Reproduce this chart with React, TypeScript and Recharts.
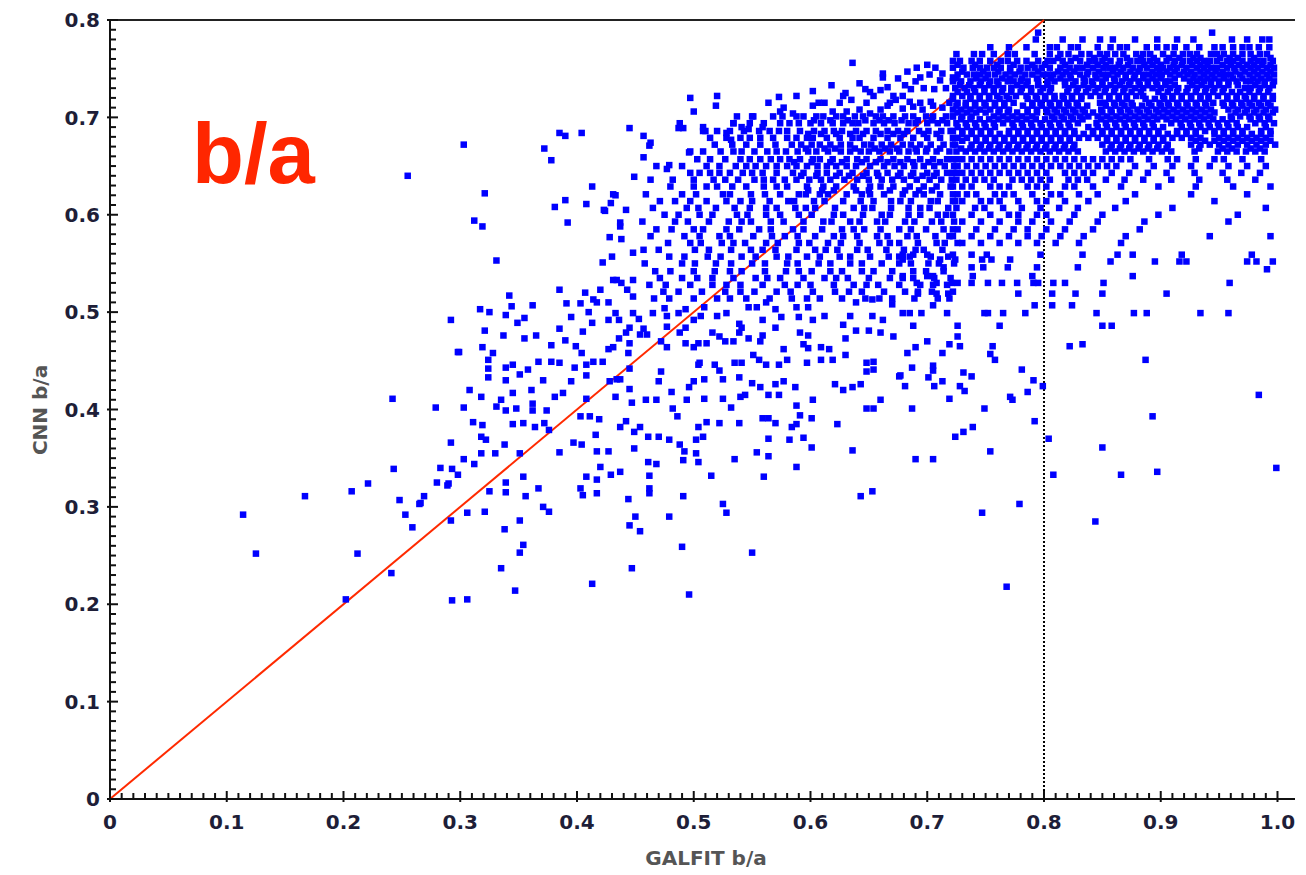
import React from "react";
import { ScatterChart, Scatter, XAxis, YAxis, ReferenceLine } from "recharts";

// GALFIT b/a vs CNN b/a
// single points: [galfit, cnn]
const leftOutliers: [number, number][] = [
  [0.114, 0.292], [0.125, 0.252], [0.167, 0.311], [0.202, 0.205], [0.207, 0.316], [0.212, 0.252],
  [0.221, 0.324], [0.241, 0.232], [0.242, 0.411], [0.243, 0.339], [0.248, 0.307], [0.253, 0.292],
  [0.255, 0.640], [0.259, 0.279], [0.265, 0.303], [0.269, 0.311], [0.279, 0.402], [0.280, 0.325],
  [0.283, 0.340], [0.289, 0.322], [0.292, 0.366], [0.292, 0.286], [0.293, 0.339], [0.293, 0.204],
  [0.298, 0.333], [0.298, 0.459], [0.303, 0.672], [0.306, 0.205],
];

const upperLeft: [number, number][] = [
  [0.312, 0.594], [0.319, 0.588], [0.321, 0.622], [0.331, 0.553], [0.342, 0.517], [0.372, 0.668],
  [0.378, 0.656], [0.381, 0.608], [0.390, 0.615], [0.390, 0.681], [0.392, 0.592], [0.404, 0.684],
  [0.408, 0.611], [0.413, 0.629], [0.424, 0.604], [0.429, 0.612], [0.433, 0.620], [0.445, 0.689],
  [0.449, 0.639], [0.423, 0.605], [0.431, 0.621], [0.437, 0.592], [0.428, 0.577], [0.437, 0.588],
  [0.438, 0.575], [0.448, 0.561], [0.422, 0.551], [0.430, 0.557], [0.434, 0.533], [0.438, 0.530],
  [0.443, 0.523], [0.448, 0.533], [0.385, 0.523], [0.391, 0.509], [0.407, 0.520], [0.414, 0.513],
  [0.420, 0.523], [0.431, 0.533], [0.448, 0.516], [0.442, 0.605], [0.385, 0.684],
];

const upperStragglers: [number, number][] = [
  [0.457, 0.681], [0.462, 0.671], [0.457, 0.659], [0.463, 0.674], [0.477, 0.647], [0.479, 0.651],
  [0.487, 0.689], [0.491, 0.689], [0.496, 0.664], [0.497, 0.720], [0.500, 0.706], [0.508, 0.690],
  [0.510, 0.686], [0.519, 0.712], [0.520, 0.722], [0.528, 0.684], [0.532, 0.677], [0.534, 0.694],
  [0.541, 0.690], [0.550, 0.701], [0.547, 0.688], [0.559, 0.690], [0.564, 0.715], [0.573, 0.721],
  [0.577, 0.710], [0.588, 0.722], [0.602, 0.727], [0.607, 0.715], [0.618, 0.733], [0.630, 0.725],
  [0.635, 0.718], [0.642, 0.735], [0.651, 0.726], [0.660, 0.728], [0.666, 0.731], [0.662, 0.741],
  [0.666, 0.712], [0.673, 0.718], [0.636, 0.756], [0.662, 0.745], [0.683, 0.747], [0.691, 0.751],
  [0.700, 0.754], [0.707, 0.751], [0.713, 0.745], [0.722, 0.741], [0.675, 0.740], [0.628, 0.722],
  [0.654, 0.722], [0.671, 0.722], [0.679, 0.722], [0.694, 0.741], [0.702, 0.744], [0.711, 0.738],
  [0.602, 0.712], [0.619, 0.706], [0.631, 0.706], [0.642, 0.708], [0.651, 0.704], [0.660, 0.708],
  [0.679, 0.709], [0.688, 0.711], [0.696, 0.708], [0.705, 0.712], [0.713, 0.710], [0.574, 0.706],
  [0.585, 0.704], [0.612, 0.715], [0.625, 0.715], [0.648, 0.715], [0.668, 0.715], [0.685, 0.716],
  [0.694, 0.715], [0.703, 0.716], [0.719, 0.715], [0.647, 0.729], [0.686, 0.729], [0.697, 0.730],
  [0.706, 0.729], [0.716, 0.730], [0.690, 0.737], [0.681, 0.733],
];

const midScatter: [number, number][] = [
  [0.292, 0.492], [0.317, 0.503], [0.325, 0.500], [0.339, 0.497], [0.344, 0.506], [0.349, 0.489],
  [0.355, 0.494], [0.362, 0.507], [0.321, 0.481], [0.337, 0.476], [0.355, 0.473], [0.365, 0.476],
  [0.299, 0.459], [0.319, 0.464], [0.328, 0.458], [0.324, 0.451], [0.324, 0.442], [0.324, 0.433],
  [0.339, 0.443], [0.345, 0.446], [0.339, 0.430], [0.351, 0.436], [0.358, 0.441], [0.367, 0.449],
  [0.371, 0.430], [0.378, 0.449], [0.385, 0.448], [0.378, 0.466], [0.390, 0.471], [0.385, 0.483],
  [0.395, 0.495], [0.403, 0.509], [0.405, 0.480], [0.399, 0.465], [0.404, 0.458], [0.398, 0.443],
  [0.395, 0.429], [0.408, 0.446], [0.414, 0.449], [0.422, 0.449], [0.308, 0.420], [0.318, 0.413],
  [0.335, 0.410], [0.345, 0.417], [0.361, 0.420], [0.381, 0.413], [0.388, 0.417], [0.331, 0.403],
  [0.339, 0.399], [0.348, 0.401], [0.362, 0.406], [0.362, 0.399], [0.374, 0.399], [0.303, 0.402],
  [0.311, 0.387], [0.319, 0.384], [0.318, 0.372], [0.322, 0.369], [0.345, 0.385], [0.354, 0.386],
  [0.364, 0.382], [0.372, 0.386], [0.376, 0.379], [0.318, 0.355], [0.330, 0.355], [0.338, 0.364],
  [0.351, 0.355], [0.303, 0.349], [0.312, 0.344], [0.290, 0.324], [0.266, 0.304], [0.306, 0.294],
  [0.321, 0.295], [0.325, 0.316], [0.339, 0.325], [0.339, 0.315], [0.354, 0.331], [0.356, 0.311],
  [0.367, 0.319], [0.371, 0.300], [0.376, 0.295], [0.338, 0.277], [0.351, 0.286], [0.354, 0.261],
  [0.351, 0.253], [0.335, 0.237], [0.347, 0.214], [0.413, 0.221], [0.385, 0.356], [0.397, 0.366],
  [0.404, 0.364], [0.416, 0.374], [0.417, 0.357], [0.427, 0.357], [0.419, 0.390], [0.433, 0.413],
  [0.445, 0.421], [0.447, 0.407], [0.459, 0.410], [0.454, 0.382], [0.449, 0.377], [0.437, 0.382],
  [0.442, 0.388], [0.461, 0.372], [0.470, 0.372], [0.479, 0.369], [0.449, 0.360], [0.461, 0.346],
  [0.468, 0.344], [0.420, 0.341], [0.408, 0.331], [0.417, 0.328], [0.429, 0.333], [0.437, 0.336],
  [0.403, 0.319], [0.405, 0.312], [0.417, 0.314], [0.444, 0.308], [0.462, 0.332], [0.462, 0.319],
  [0.462, 0.314], [0.450, 0.290], [0.445, 0.281], [0.454, 0.275], [0.479, 0.290], [0.447, 0.237],
  [0.490, 0.259], [0.496, 0.210], [0.491, 0.311], [0.525, 0.303], [0.528, 0.294], [0.550, 0.253],
  [0.515, 0.332], [0.560, 0.331], [0.588, 0.341], [0.636, 0.358], [0.643, 0.311], [0.653, 0.316],
  [0.535, 0.349], [0.554, 0.356], [0.564, 0.352], [0.488, 0.364], [0.492, 0.357], [0.491, 0.348],
  [0.502, 0.355], [0.504, 0.346], [0.502, 0.369], [0.508, 0.372], [0.504, 0.382], [0.511, 0.387],
  [0.522, 0.386], [0.539, 0.386], [0.564, 0.370], [0.582, 0.369], [0.594, 0.371], [0.601, 0.361],
  [0.584, 0.382], [0.588, 0.385], [0.559, 0.391], [0.564, 0.391], [0.570, 0.386], [0.591, 0.394],
  [0.601, 0.391], [0.588, 0.404], [0.623, 0.385], [0.648, 0.401], [0.654, 0.401], [0.660, 0.410],
  [0.602, 0.410], [0.532, 0.402], [0.525, 0.411], [0.509, 0.411], [0.540, 0.413], [0.544, 0.415],
  [0.564, 0.415], [0.573, 0.415], [0.550, 0.427], [0.557, 0.423], [0.570, 0.426], [0.577, 0.429],
  [0.587, 0.423], [0.621, 0.426], [0.628, 0.420], [0.636, 0.423], [0.643, 0.426], [0.648, 0.439],
  [0.654, 0.441], [0.654, 0.449], [0.676, 0.434], [0.482, 0.401], [0.486, 0.393], [0.494, 0.410],
  [0.496, 0.423], [0.500, 0.429], [0.481, 0.418], [0.470, 0.429], [0.472, 0.439], [0.468, 0.410],
  [0.445, 0.442], [0.434, 0.431], [0.437, 0.431], [0.428, 0.429], [0.408, 0.435], [0.408, 0.411],
  [0.403, 0.393], [0.411, 0.393], [0.504, 0.446], [0.505, 0.448], [0.509, 0.431], [0.518, 0.446],
  [0.522, 0.440], [0.525, 0.431], [0.539, 0.433], [0.535, 0.448], [0.541, 0.448], [0.551, 0.456],
  [0.556, 0.451], [0.562, 0.446], [0.573, 0.446], [0.580, 0.451], [0.597, 0.448], [0.609, 0.451],
  [0.619, 0.451], [0.630, 0.456], [0.648, 0.448], [0.577, 0.462], [0.594, 0.467], [0.598, 0.463],
  [0.609, 0.464], [0.616, 0.462], [0.630, 0.473], [0.671, 0.475], [0.660, 0.479], [0.639, 0.481],
  [0.650, 0.481], [0.591, 0.479], [0.598, 0.476], [0.570, 0.484], [0.559, 0.476], [0.557, 0.470],
  [0.547, 0.473], [0.534, 0.470], [0.539, 0.479], [0.541, 0.484], [0.522, 0.475], [0.527, 0.470],
  [0.516, 0.479], [0.504, 0.468], [0.511, 0.468], [0.493, 0.468], [0.500, 0.464], [0.488, 0.479],
  [0.493, 0.484], [0.472, 0.470], [0.477, 0.464], [0.477, 0.485], [0.460, 0.477], [0.454, 0.477],
  [0.457, 0.483], [0.445, 0.484], [0.442, 0.479], [0.445, 0.468], [0.436, 0.473], [0.427, 0.462],
  [0.431, 0.464], [0.444, 0.458], [0.436, 0.492], [0.427, 0.492], [0.413, 0.489], [0.410, 0.500],
  [0.417, 0.510], [0.427, 0.510], [0.433, 0.499], [0.448, 0.499], [0.453, 0.493], [0.465, 0.499],
  [0.475, 0.504], [0.477, 0.496], [0.487, 0.499], [0.493, 0.503], [0.500, 0.492], [0.506, 0.496],
  [0.509, 0.505], [0.520, 0.496], [0.528, 0.499], [0.539, 0.488], [0.547, 0.505], [0.554, 0.505],
  [0.562, 0.510], [0.559, 0.492], [0.570, 0.503], [0.575, 0.495], [0.588, 0.505], [0.590, 0.495],
  [0.598, 0.505], [0.602, 0.492], [0.612, 0.496], [0.628, 0.487], [0.634, 0.496], [0.639, 0.510],
  [0.653, 0.496], [0.662, 0.492], [0.653, 0.513], [0.670, 0.508],
];

const rightScatter: [number, number][] = [
  [0.679, 0.559], [0.688, 0.559], [0.700, 0.559], [0.722, 0.559], [0.738, 0.559], [0.751, 0.559],
  [0.797, 0.559], [0.679, 0.554], [0.711, 0.554], [0.724, 0.554], [0.747, 0.554], [0.755, 0.554],
  [0.771, 0.554], [0.833, 0.559], [0.863, 0.559], [0.876, 0.559], [0.918, 0.559], [0.978, 0.559],
  [0.857, 0.552], [0.895, 0.552], [0.916, 0.552], [0.922, 0.552], [0.974, 0.552], [0.982, 0.552],
  [0.996, 0.552], [0.714, 0.546], [0.738, 0.546], [0.748, 0.546], [0.769, 0.546], [0.794, 0.546],
  [0.829, 0.546], [0.991, 0.544], [0.679, 0.537], [0.700, 0.537], [0.705, 0.537], [0.739, 0.537],
  [0.790, 0.537], [0.876, 0.537], [0.691, 0.530], [0.708, 0.530], [0.721, 0.530], [0.726, 0.530],
  [0.738, 0.530], [0.752, 0.530], [0.764, 0.530], [0.777, 0.530], [0.791, 0.530], [0.795, 0.530],
  [0.808, 0.530], [0.818, 0.530], [0.851, 0.530], [0.959, 0.530], [0.692, 0.519], [0.708, 0.519],
  [0.718, 0.519], [0.778, 0.519], [0.807, 0.519], [0.827, 0.519], [0.850, 0.519], [0.905, 0.519],
  [0.705, 0.507], [0.792, 0.507], [0.807, 0.507], [0.824, 0.507], [0.679, 0.499], [0.685, 0.499],
  [0.695, 0.499], [0.717, 0.499], [0.749, 0.499], [0.752, 0.499], [0.765, 0.499], [0.784, 0.499],
  [0.845, 0.499], [0.877, 0.499], [0.888, 0.499], [0.934, 0.499], [0.958, 0.499], [0.688, 0.486],
  [0.762, 0.486], [0.726, 0.486], [0.850, 0.486], [0.858, 0.486], [0.726, 0.475], [0.728, 0.465],
  [0.719, 0.467], [0.700, 0.470], [0.690, 0.464], [0.683, 0.458], [0.713, 0.458], [0.756, 0.465],
  [0.754, 0.457], [0.758, 0.451], [0.822, 0.465], [0.833, 0.467], [0.887, 0.451], [0.687, 0.443],
  [0.705, 0.445], [0.705, 0.440], [0.731, 0.438], [0.738, 0.434], [0.781, 0.441], [0.677, 0.435],
  [0.701, 0.433], [0.713, 0.429], [0.681, 0.424], [0.706, 0.424], [0.728, 0.424], [0.732, 0.419],
  [0.791, 0.430], [0.786, 0.418], [0.771, 0.413], [0.773, 0.410], [0.799, 0.424], [0.719, 0.411],
  [0.687, 0.401], [0.749, 0.401], [0.792, 0.388], [0.739, 0.382], [0.731, 0.377], [0.724, 0.372],
  [0.754, 0.357], [0.690, 0.349], [0.705, 0.349], [0.779, 0.303], [0.747, 0.294], [0.768, 0.218],
  [0.984, 0.415], [0.893, 0.393], [0.804, 0.370], [0.850, 0.361], [0.808, 0.333], [0.866, 0.333],
  [0.897, 0.336], [0.999, 0.340], [0.844, 0.285],
];

// denser parts read row by row: [cnn, [galfit...]]
const bandRows: [number, number[]][] = [
  [0.701, [0.537, 0.551, 0.568, 0.576, 0.588, 0.594, 0.605, 0.611, 0.622, 0.628, 0.638, 0.645, 0.656, 0.662, 0.671, 0.681, 0.688, 0.699, 0.705, 0.716, 0.722]],
  [0.697, [0.603, 0.617, 0.632, 0.647, 0.659, 0.667, 0.678, 0.692, 0.704, 0.713]],
  [0.694, [0.488, 0.534, 0.548, 0.560, 0.574, 0.582, 0.590, 0.600, 0.609, 0.619, 0.628, 0.636, 0.641, 0.654, 0.663, 0.672, 0.684, 0.690, 0.700, 0.709, 0.717]],
  [0.686, [0.508, 0.520, 0.531, 0.543, 0.556, 0.565, 0.573, 0.580, 0.591, 0.603, 0.612, 0.620, 0.627, 0.639, 0.648, 0.656, 0.666, 0.675, 0.683, 0.693, 0.701, 0.712, 0.720]],
  [0.683, [0.598, 0.609, 0.622, 0.634, 0.645, 0.660, 0.671, 0.680, 0.697, 0.708]],
  [0.679, [0.514, 0.528, 0.540, 0.548, 0.557, 0.568, 0.580, 0.588, 0.597, 0.602, 0.614, 0.625, 0.636, 0.642, 0.654, 0.666, 0.677, 0.688, 0.700, 0.711, 0.722]],
  [0.672, [0.518, 0.533, 0.545, 0.557, 0.570, 0.584, 0.592, 0.601, 0.608, 0.617, 0.626, 0.634, 0.646, 0.652, 0.661, 0.669, 0.679, 0.686, 0.694, 0.703, 0.714, 0.724]],
  [0.668, [0.596, 0.612, 0.621, 0.638, 0.655, 0.664, 0.674, 0.690, 0.700, 0.711]],
  [0.665, [0.497, 0.508, 0.523, 0.534, 0.541, 0.552, 0.563, 0.571, 0.579, 0.589, 0.598, 0.605, 0.615, 0.626, 0.634, 0.643, 0.650, 0.659, 0.668, 0.676, 0.684, 0.691, 0.699, 0.708, 0.719]],
  [0.657, [0.503, 0.514, 0.527, 0.540, 0.548, 0.557, 0.566, 0.574, 0.582, 0.591, 0.602, 0.608, 0.619, 0.631, 0.640, 0.648, 0.660, 0.671, 0.683, 0.694, 0.705, 0.717, 0.725]],
  [0.654, [0.586, 0.601, 0.617, 0.627, 0.644, 0.656, 0.666, 0.677, 0.688, 0.701, 0.711]],
  [0.650, [0.468, 0.490, 0.511, 0.522, 0.536, 0.545, 0.553, 0.562, 0.571, 0.580, 0.588, 0.597, 0.606, 0.614, 0.622, 0.631, 0.639, 0.651, 0.663, 0.672, 0.680, 0.689, 0.697, 0.706, 0.715, 0.723]],
  [0.643, [0.497, 0.505, 0.514, 0.522, 0.531, 0.542, 0.550, 0.559, 0.571, 0.585, 0.594, 0.606, 0.614, 0.625, 0.636, 0.648, 0.657, 0.666, 0.677, 0.688, 0.700, 0.708, 0.717, 0.725]],
  [0.640, [0.592, 0.605, 0.622, 0.633, 0.645, 0.658, 0.675, 0.686, 0.696, 0.706]],
  [0.636, [0.463, 0.482, 0.500, 0.517, 0.527, 0.538, 0.552, 0.560, 0.568, 0.578, 0.588, 0.599, 0.609, 0.617, 0.629, 0.640, 0.650, 0.661, 0.670, 0.680, 0.691, 0.702, 0.712, 0.721]],
  [0.629, [0.480, 0.500, 0.511, 0.520, 0.533, 0.545, 0.560, 0.571, 0.580, 0.597, 0.611, 0.622, 0.637, 0.651, 0.660, 0.671, 0.685, 0.697, 0.708, 0.720]],
  [0.625, [0.598, 0.610, 0.620, 0.639, 0.650, 0.668, 0.681, 0.693, 0.704]],
  [0.621, [0.459, 0.490, 0.502, 0.525, 0.531, 0.549, 0.561, 0.574, 0.590, 0.596, 0.608, 0.615, 0.631, 0.644, 0.651, 0.663, 0.679, 0.690, 0.697, 0.711, 0.722]],
  [0.614, [0.471, 0.484, 0.497, 0.511, 0.528, 0.540, 0.550, 0.565, 0.581, 0.586, 0.603, 0.612, 0.628, 0.643, 0.654, 0.669, 0.677, 0.686, 0.703, 0.709, 0.724]],
  [0.607, [0.465, 0.494, 0.504, 0.519, 0.535, 0.548, 0.562, 0.571, 0.587, 0.596, 0.604, 0.621, 0.637, 0.646, 0.653, 0.669, 0.684, 0.694, 0.702, 0.718]],
  [0.600, [0.475, 0.487, 0.505, 0.516, 0.537, 0.546, 0.562, 0.574, 0.590, 0.601, 0.620, 0.628, 0.645, 0.661, 0.668, 0.684, 0.694, 0.709, 0.716]],
  [0.593, [0.456, 0.484, 0.495, 0.513, 0.530, 0.541, 0.549, 0.566, 0.577, 0.594, 0.611, 0.618, 0.634, 0.642, 0.657, 0.664, 0.681, 0.689, 0.704, 0.712, 0.723]],
  [0.585, [0.468, 0.481, 0.500, 0.508, 0.528, 0.539, 0.556, 0.566, 0.585, 0.594, 0.610, 0.627, 0.637, 0.646, 0.660, 0.676, 0.686, 0.699, 0.714, 0.722]],
  [0.578, [0.463, 0.492, 0.505, 0.522, 0.531, 0.551, 0.567, 0.578, 0.589, 0.604, 0.620, 0.628, 0.640, 0.657, 0.666, 0.683, 0.691, 0.707, 0.719]],
  [0.571, [0.478, 0.497, 0.506, 0.524, 0.534, 0.544, 0.562, 0.572, 0.590, 0.599, 0.615, 0.626, 0.642, 0.659, 0.668, 0.676, 0.692, 0.708, 0.715, 0.726]],
  [0.564, [0.457, 0.470, 0.501, 0.513, 0.532, 0.549, 0.559, 0.570, 0.588, 0.604, 0.613, 0.623, 0.640, 0.649, 0.665, 0.680, 0.690, 0.697, 0.713]],
  [0.557, [0.479, 0.492, 0.512, 0.523, 0.541, 0.553, 0.571, 0.581, 0.597, 0.608, 0.625, 0.634, 0.651, 0.667, 0.676, 0.685, 0.703, 0.718]],
  [0.550, [0.458, 0.490, 0.501, 0.519, 0.532, 0.550, 0.561, 0.580, 0.589, 0.607, 0.617, 0.634, 0.644, 0.661, 0.676, 0.686, 0.701, 0.710, 0.723]],
  [0.542, [0.467, 0.480, 0.500, 0.518, 0.531, 0.541, 0.561, 0.579, 0.590, 0.601, 0.617, 0.627, 0.644, 0.654, 0.670, 0.688, 0.699, 0.714]],
  [0.535, [0.471, 0.490, 0.503, 0.516, 0.534, 0.553, 0.563, 0.574, 0.594, 0.612, 0.622, 0.632, 0.650, 0.668, 0.679, 0.688, 0.706, 0.720]],
  [0.528, [0.462, 0.476, 0.497, 0.516, 0.528, 0.540, 0.559, 0.578, 0.589, 0.600, 0.620, 0.637, 0.648, 0.658, 0.676, 0.694, 0.705, 0.717]],
  [0.521, [0.474, 0.487, 0.507, 0.527, 0.540, 0.552, 0.571, 0.583, 0.602, 0.621, 0.633, 0.644, 0.663, 0.681, 0.692, 0.704, 0.722]],
  [0.514, [0.466, 0.479, 0.500, 0.520, 0.531, 0.545, 0.565, 0.584, 0.597, 0.608, 0.627, 0.647, 0.659, 0.670, 0.689, 0.709, 0.719]],
];

const coreRows: [number, number[]][] = [
  [0.787, [0.795, 0.944]],
  [0.780, [0.793, 0.816, 0.833, 0.848, 0.859, 0.878, 0.897, 0.914, 0.928, 0.961, 0.974, 0.987, 0.993]],
  [0.772, [0.754, 0.770, 0.785, 0.805, 0.811, 0.823, 0.829, 0.846, 0.857, 0.865, 0.871, 0.888, 0.897, 0.905, 0.912, 0.922, 0.933, 0.946, 0.953, 0.962, 0.970, 0.976, 0.984, 0.993]],
  [0.765, [0.725, 0.740, 0.747, 0.757, 0.769, 0.775, 0.792, 0.805, 0.814, 0.821, 0.832, 0.839, 0.848, 0.854, 0.861, 0.868, 0.879, 0.885, 0.891, 0.902, 0.911, 0.919, 0.925, 0.931, 0.943, 0.948, 0.954, 0.962, 0.970, 0.977, 0.985, 0.991]],
  [0.761, [0.812, 0.827, 0.843, 0.852, 0.871, 0.883, 0.894, 0.907, 0.916, 0.928, 0.934, 0.951, 0.959, 0.966, 0.980, 0.994]],
  [0.758, [0.722, 0.728, 0.738, 0.745, 0.754, 0.763, 0.769, 0.777, 0.785, 0.795, 0.803, 0.808, 0.816, 0.823, 0.831, 0.839, 0.844, 0.850, 0.857, 0.865, 0.874, 0.880, 0.885, 0.891, 0.897, 0.905, 0.912, 0.919, 0.925, 0.931, 0.937, 0.942, 0.948, 0.957, 0.962, 0.970, 0.977, 0.983, 0.988, 0.996]],
  [0.754, [0.726, 0.741, 0.760, 0.774, 0.790, 0.801, 0.818, 0.837, 0.846, 0.853, 0.864, 0.872, 0.886, 0.893, 0.900, 0.911, 0.918, 0.927, 0.934, 0.940, 0.953, 0.960, 0.967, 0.974, 0.980, 0.987, 0.994]],
  [0.751, [0.722, 0.731, 0.739, 0.745, 0.751, 0.757, 0.763, 0.771, 0.780, 0.786, 0.792, 0.798, 0.805, 0.814, 0.822, 0.828, 0.833, 0.842, 0.851, 0.856, 0.861, 0.868, 0.876, 0.882, 0.888, 0.897, 0.902, 0.908, 0.914, 0.922, 0.931, 0.937, 0.943, 0.948, 0.957, 0.963, 0.970, 0.977, 0.983, 0.991, 0.997]],
  [0.747, [0.730, 0.748, 0.761, 0.771, 0.779, 0.795, 0.812, 0.819, 0.826, 0.838, 0.847, 0.859, 0.866, 0.874, 0.881, 0.893, 0.899, 0.905, 0.912, 0.920, 0.926, 0.934, 0.940, 0.947, 0.953, 0.964, 0.972, 0.980, 0.987, 0.994]],
  [0.744, [0.726, 0.734, 0.740, 0.745, 0.752, 0.758, 0.767, 0.775, 0.784, 0.790, 0.799, 0.803, 0.808, 0.816, 0.822, 0.831, 0.837, 0.844, 0.850, 0.855, 0.863, 0.870, 0.878, 0.885, 0.890, 0.896, 0.901, 0.908, 0.916, 0.923, 0.929, 0.937, 0.944, 0.951, 0.956, 0.960, 0.968, 0.976, 0.983, 0.991, 0.997]],
  [0.740, [0.725, 0.742, 0.750, 0.764, 0.771, 0.781, 0.794, 0.806, 0.814, 0.823, 0.834, 0.845, 0.853, 0.860, 0.870, 0.877, 0.885, 0.893, 0.900, 0.912, 0.920, 0.928, 0.934, 0.940, 0.946, 0.954, 0.962, 0.970, 0.979, 0.986, 0.993]],
  [0.737, [0.722, 0.729, 0.737, 0.746, 0.754, 0.760, 0.769, 0.774, 0.780, 0.786, 0.795, 0.803, 0.809, 0.818, 0.827, 0.835, 0.841, 0.850, 0.861, 0.867, 0.874, 0.881, 0.889, 0.896, 0.904, 0.908, 0.925, 0.931, 0.937, 0.943, 0.950, 0.958, 0.965, 0.973, 0.977, 0.983, 0.989, 0.997]],
  [0.733, [0.728, 0.736, 0.745, 0.753, 0.761, 0.777, 0.785, 0.795, 0.803, 0.818, 0.825, 0.834, 0.842, 0.850, 0.857, 0.865, 0.873, 0.882, 0.889, 0.897, 0.904, 0.912, 0.927, 0.935, 0.943, 0.950, 0.958, 0.966, 0.981, 0.989, 0.996]],
  [0.730, [0.724, 0.732, 0.740, 0.749, 0.757, 0.765, 0.772, 0.781, 0.789, 0.799, 0.806, 0.821, 0.829, 0.838, 0.846, 0.853, 0.861, 0.869, 0.878, 0.885, 0.893, 0.900, 0.908, 0.915, 0.923, 0.931, 0.939, 0.946, 0.954, 0.972, 0.977, 0.985, 0.993]],
  [0.726, [0.726, 0.734, 0.741, 0.749, 0.757, 0.764, 0.772, 0.780, 0.789, 0.797, 0.805, 0.820, 0.828, 0.836, 0.844, 0.852, 0.860, 0.868, 0.875, 0.883, 0.898, 0.906, 0.914, 0.922, 0.930, 0.938, 0.945, 0.953, 0.961, 0.968, 0.976, 0.984, 0.992]],
  [0.722, [0.722, 0.730, 0.737, 0.745, 0.753, 0.760, 0.768, 0.776, 0.785, 0.793, 0.801, 0.809, 0.816, 0.824, 0.832, 0.840, 0.848, 0.856, 0.864, 0.871, 0.879, 0.885, 0.902, 0.910, 0.918, 0.926, 0.934, 0.941, 0.949, 0.957, 0.965, 0.972, 0.980, 0.988, 0.996]],
  [0.719, [0.722, 0.737, 0.745, 0.753, 0.762, 0.770, 0.786, 0.794, 0.801, 0.809, 0.817, 0.824, 0.832, 0.856, 0.864, 0.871, 0.887, 0.895, 0.903, 0.910, 0.918, 0.926, 0.934, 0.941, 0.957, 0.965, 0.973, 0.980, 0.988, 0.996]],
  [0.715, [0.726, 0.733, 0.741, 0.749, 0.758, 0.766, 0.774, 0.790, 0.797, 0.805, 0.813, 0.820, 0.828, 0.848, 0.852, 0.860, 0.867, 0.875, 0.890, 0.899, 0.906, 0.914, 0.922, 0.930, 0.938, 0.945, 0.953, 0.961, 0.969, 0.976, 0.984, 0.992]],
  [0.712, [0.725, 0.733, 0.741, 0.750, 0.758, 0.766, 0.782, 0.790, 0.798, 0.806, 0.813, 0.821, 0.829, 0.837, 0.853, 0.861, 0.869, 0.876, 0.884, 0.892, 0.900, 0.907, 0.915, 0.923, 0.931, 0.939, 0.954, 0.962, 0.970, 0.978, 0.986, 0.994]],
  [0.708, [0.722, 0.729, 0.737, 0.745, 0.754, 0.762, 0.770, 0.786, 0.794, 0.802, 0.809, 0.817, 0.825, 0.833, 0.849, 0.857, 0.865, 0.872, 0.880, 0.888, 0.896, 0.903, 0.911, 0.919, 0.927, 0.935, 0.943, 0.958, 0.966, 0.974, 0.982, 0.990, 0.998]],
  [0.705, [0.726, 0.734, 0.742, 0.750, 0.761, 0.769, 0.777, 0.786, 0.794, 0.803, 0.811, 0.819, 0.827, 0.835, 0.842, 0.850, 0.858, 0.866, 0.874, 0.882, 0.890, 0.898, 0.906, 0.914, 0.922, 0.930, 0.938, 0.946, 0.964, 0.972, 0.980, 0.988, 0.996]],
  [0.701, [0.722, 0.730, 0.738, 0.757, 0.765, 0.773, 0.781, 0.790, 0.807, 0.815, 0.823, 0.831, 0.838, 0.846, 0.854, 0.862, 0.870, 0.878, 0.886, 0.894, 0.902, 0.910, 0.918, 0.926, 0.934, 0.942, 0.960, 0.968, 0.976, 0.984, 0.992]],
  [0.698, [0.729, 0.737, 0.745, 0.753, 0.761, 0.769, 0.777, 0.785, 0.793, 0.801, 0.809, 0.817, 0.825, 0.833, 0.849, 0.857, 0.865, 0.873, 0.881, 0.889, 0.897, 0.905, 0.913, 0.921, 0.929, 0.937, 0.945, 0.953, 0.961, 0.977, 0.985, 0.993]],
  [0.694, [0.725, 0.733, 0.741, 0.749, 0.757, 0.765, 0.773, 0.781, 0.789, 0.797, 0.805, 0.813, 0.821, 0.829, 0.845, 0.853, 0.861, 0.869, 0.877, 0.885, 0.893, 0.909, 0.917, 0.925, 0.933, 0.941, 0.949, 0.957, 0.965, 0.981, 0.989, 0.997]],
  [0.690, [0.726, 0.734, 0.742, 0.750, 0.758, 0.774, 0.782, 0.790, 0.798, 0.806, 0.814, 0.822, 0.838, 0.846, 0.854, 0.862, 0.870, 0.878, 0.886, 0.894, 0.902, 0.918, 0.926, 0.934, 0.942, 0.950, 0.958, 0.966, 0.974, 0.990]],
  [0.686, [0.722, 0.730, 0.738, 0.746, 0.754, 0.770, 0.778, 0.786, 0.794, 0.802, 0.810, 0.818, 0.826, 0.842, 0.850, 0.858, 0.866, 0.874, 0.882, 0.890, 0.898, 0.914, 0.922, 0.930, 0.938, 0.946, 0.954, 0.962, 0.970, 0.986, 0.994]],
  [0.683, [0.730, 0.738, 0.746, 0.754, 0.762, 0.770, 0.778, 0.786, 0.794, 0.802, 0.810, 0.818, 0.826, 0.834, 0.842, 0.850, 0.858, 0.866, 0.874, 0.882, 0.890, 0.898, 0.906, 0.914, 0.922, 0.930, 0.946, 0.954, 0.962, 0.970, 0.978, 0.986, 0.994]],
  [0.679, [0.726, 0.734, 0.742, 0.750, 0.758, 0.766, 0.774, 0.782, 0.790, 0.798, 0.806, 0.814, 0.822, 0.830, 0.838, 0.846, 0.854, 0.862, 0.870, 0.878, 0.886, 0.894, 0.902, 0.910, 0.918, 0.926, 0.934, 0.950, 0.958, 0.966, 0.974, 0.982, 0.990]],
  [0.676, [0.730, 0.742, 0.750, 0.758, 0.766, 0.774, 0.782, 0.790, 0.798, 0.806, 0.814, 0.822, 0.854, 0.862, 0.870, 0.878, 0.886, 0.894, 0.902, 0.930, 0.938, 0.946, 0.954, 0.962, 0.970, 0.978, 0.986, 0.994]],
  [0.672, [0.722, 0.738, 0.746, 0.754, 0.762, 0.770, 0.778, 0.786, 0.794, 0.802, 0.810, 0.818, 0.826, 0.850, 0.858, 0.866, 0.874, 0.882, 0.890, 0.898, 0.906, 0.926, 0.934, 0.942, 0.950, 0.958, 0.966, 0.974, 0.982, 0.990, 0.998]],
  [0.668, [0.729, 0.737, 0.745, 0.753, 0.761, 0.769, 0.777, 0.785, 0.793, 0.801, 0.809, 0.817, 0.825, 0.857, 0.865, 0.873, 0.881, 0.889, 0.897, 0.905, 0.933, 0.953, 0.961, 0.977, 0.985]],
  [0.665, [0.725, 0.733, 0.741, 0.749, 0.757, 0.765, 0.773, 0.781, 0.789, 0.797, 0.805, 0.813, 0.821, 0.829, 0.853, 0.861, 0.869, 0.877, 0.885, 0.893, 0.901, 0.909, 0.929, 0.949, 0.957, 0.965, 0.973, 0.981, 0.989]],
  [0.657, [0.722, 0.730, 0.738, 0.746, 0.754, 0.762, 0.770, 0.778, 0.786, 0.794, 0.802, 0.810, 0.818, 0.826, 0.834, 0.842, 0.850, 0.858, 0.866, 0.874, 0.890, 0.906, 0.914, 0.930, 0.946, 0.954, 0.970, 0.986]],
  [0.650, [0.726, 0.734, 0.742, 0.750, 0.758, 0.766, 0.774, 0.782, 0.790, 0.798, 0.806, 0.814, 0.822, 0.830, 0.838, 0.846, 0.854, 0.862, 0.878, 0.894, 0.910, 0.926, 0.942, 0.958, 0.974, 0.990]],
  [0.643, [0.722, 0.730, 0.738, 0.746, 0.754, 0.762, 0.770, 0.778, 0.786, 0.794, 0.802, 0.818, 0.826, 0.834, 0.842, 0.858, 0.873, 0.889, 0.905, 0.929, 0.953, 0.969, 0.985]],
  [0.636, [0.725, 0.733, 0.741, 0.749, 0.757, 0.773, 0.781, 0.789, 0.797, 0.805, 0.821, 0.829, 0.837, 0.853, 0.869, 0.885, 0.909, 0.933, 0.957, 0.981]],
  [0.629, [0.722, 0.730, 0.738, 0.754, 0.762, 0.770, 0.786, 0.794, 0.802, 0.818, 0.826, 0.842, 0.866, 0.898, 0.930, 0.962, 0.994]],
  [0.621, [0.726, 0.734, 0.742, 0.758, 0.766, 0.774, 0.790, 0.806, 0.814, 0.830, 0.846, 0.878, 0.926, 0.974]],
  [0.614, [0.722, 0.730, 0.746, 0.754, 0.762, 0.778, 0.794, 0.802, 0.818, 0.838, 0.870, 0.946]],
  [0.607, [0.725, 0.741, 0.749, 0.765, 0.781, 0.797, 0.813, 0.829, 0.861, 0.910, 0.990]],
  [0.600, [0.722, 0.738, 0.754, 0.770, 0.778, 0.794, 0.802, 0.826, 0.850, 0.898, 0.966]],
  [0.593, [0.730, 0.746, 0.762, 0.778, 0.790, 0.806, 0.822, 0.846, 0.886, 0.958]],
  [0.585, [0.726, 0.742, 0.758, 0.774, 0.786, 0.802, 0.818, 0.842, 0.882]],
  [0.578, [0.722, 0.738, 0.754, 0.770, 0.786, 0.798, 0.814, 0.834, 0.870, 0.942, 0.994]],
  [0.571, [0.730, 0.746, 0.762, 0.778, 0.794, 0.810, 0.830, 0.866]],
];

const xMajor = [0, 0.1, 0.2, 0.3, 0.4, 0.5, 0.6, 0.7, 0.8, 0.9, 1.0];
const yMajor = [0, 0.1, 0.2, 0.3, 0.4, 0.5, 0.6, 0.7, 0.8];
const xLabels = ["0", "0.1", "0.2", "0.3", "0.4", "0.5", "0.6", "0.7", "0.8", "0.9", "1.0"];
const yLabels = ["0", "0.1", "0.2", "0.3", "0.4", "0.5", "0.6", "0.7", "0.8"];

// minor ticks every 0.01
const xTicks = Array.from({ length: 101 }, (_, i) => i / 100);
const yTicks = Array.from({ length: 81 }, (_, i) => i / 100);

const points = [
  ...leftOutliers,
  ...upperLeft,
  ...upperStragglers,
  ...midScatter,
  ...rightScatter,
  ...bandRows.flatMap(([y, xs]) => xs.map((x) => [x, y] as [number, number])),
  ...coreRows.flatMap(([y, xs]) => xs.map((x) => [x, y] as [number, number])),
].map(([x, y]) => ({ x, y }));

const FONT = "'DejaVu Sans', Verdana, sans-serif";
const TICK_COLOR = "#1e1e38";

const majorIndex = (v: number, majors: number[]) =>
  majors.findIndex((m) => Math.abs(m - v) < 1e-6);

const XTick = (props: any) => {
  const { x, y, payload } = props;
  const idx = majorIndex(payload.value, xMajor);
  const major = idx >= 0;
  return (
    <g>
      <line x1={x} x2={x} y1={major ? y + 3 : y} y2={y - (major ? 8 : 6)} stroke="#111" strokeWidth={2} />
      {major && (
        <text x={x} y={y + 30} textAnchor="middle" fontFamily={FONT} fontSize={20} fontWeight="bold" fill={TICK_COLOR}>
          {xLabels[idx]}
        </text>
      )}
    </g>
  );
};

const YTick = (props: any) => {
  const { x, y, payload } = props;
  const idx = majorIndex(payload.value, yMajor);
  const major = idx >= 0;
  return (
    <g>
      <line x1={major ? x - 3 : x} x2={x + (major ? 8 : 6)} y1={y} y2={y} stroke="#111" strokeWidth={2} />
      {major && (
        <text x={x - 10} y={y} dy="0.36em" textAnchor="end" fontFamily={FONT} fontSize={20} fontWeight="bold" fill={TICK_COLOR}>
          {yLabels[idx]}
        </text>
      )}
    </g>
  );
};

const Square = (props: any) => {
  const { cx, cy } = props;
  if (cx == null || cy == null) return null;
  return <rect x={cx - 3.25} y={cy - 3.25} width={6.5} height={6.5} fill="#0000ff" />;
};

export default function App() {
  return (
    <div style={{ position: "absolute", left: 0, top: 0, width: 1306, height: 875, background: "#fff" }}>
      <ScatterChart width={1306} height={875} margin={{ top: 20, right: 11, bottom: 16, left: 50 }}>
        <XAxis
          type="number"
          dataKey="x"
          domain={[0, 1.015]}
          ticks={xTicks}
          interval={0}
          tickSize={0}
          tickMargin={0}
          tickLine={false}
          tick={<XTick />}
          height={60}
          axisLine={{ stroke: "#111", strokeWidth: 2 }}
          allowDataOverflow
        />
        <YAxis
          type="number"
          dataKey="y"
          domain={[0, 0.8]}
          ticks={yTicks}
          interval={0}
          tickSize={0}
          tickMargin={0}
          tickLine={false}
          tick={<YTick />}
          width={60}
          axisLine={{ stroke: "#111", strokeWidth: 2 }}
          allowDataOverflow
        />
        <Scatter data={points} shape={<Square />} isAnimationActive={false} />
        <ReferenceLine y={0.8} stroke="#222" strokeWidth={2} />
        <ReferenceLine x={0.8} stroke="#000" strokeWidth={2} strokeDasharray="2 2" />
        <ReferenceLine segment={[{ x: 0, y: 0 }, { x: 0.8, y: 0.8 }]} stroke="#ff2a00" strokeWidth={2} />
      </ScatterChart>
      <svg width={1306} height={875} style={{ position: "absolute", left: 0, top: 0, pointerEvents: "none" }}>
        <text x={192} y={183} fontFamily="'Liberation Sans', Arial, sans-serif" fontWeight="bold" fontSize={85} fill="#ff2600">
          b/a
        </text>
        <text x={706} y={865} textAnchor="middle" fontFamily={FONT} fontWeight="bold" fontSize={20} fill="#555">
          GALFIT b/a
        </text>
        <text x={40} y={410} dy="0.36em" textAnchor="middle" transform="rotate(-90 40 410)" fontFamily={FONT} fontWeight="bold" fontSize={20} fill="#555">
          CNN b/a
        </text>
      </svg>
    </div>
  );
}
